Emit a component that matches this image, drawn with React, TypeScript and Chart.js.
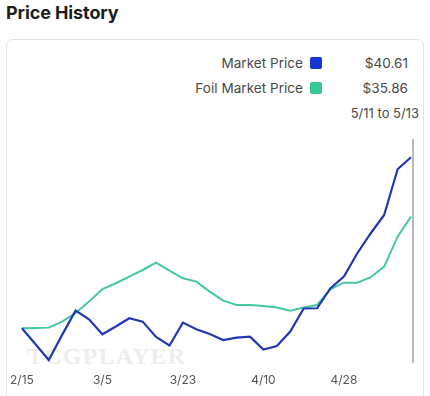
import React, { useEffect, useRef } from "react";
import { Chart, registerables } from "chart.js";

Chart.register(...registerables);

const dates = [
  "2/15", "2/18", "2/21", "2/24", "2/27", "3/2", "3/5", "3/8", "3/11", "3/14",
  "3/17", "3/20", "3/23", "3/26", "3/29", "4/1", "4/4", "4/7", "4/10", "4/13",
  "4/16", "4/19", "4/22", "4/25", "4/28", "5/1", "5/4", "5/7", "5/10", "5/13",
];
const tickEvery = 6;

const marketPrice = [
  26.93, 25.67, 24.39, 26.4, 28.34, 27.65, 26.45, 27.07, 27.73, 27.46,
  26.23, 25.55, 27.38, 26.85, 26.47, 25.99, 26.18, 26.26, 25.23, 25.51,
  26.66, 28.51, 28.53, 30.13, 31.07, 32.93, 34.53, 35.99, 39.65, 40.61,
];
const foilMarketPrice = [
  26.93, 26.95, 26.98, 27.46, 28.15, 29.06, 30.07, 30.53, 31.06, 31.59,
  32.18, 31.54, 30.93, 30.66, 29.86, 29.14, 28.79, 28.79, 28.71, 28.59,
  28.34, 28.59, 28.79, 30.07, 30.58, 30.58, 31.01, 31.86, 34.26, 35.86,
];
const yMin = 24.15;
const yMax = 42.07;

const legendItems = [
  { label: "Market Price", color: "#1536d2", value: "$40.61" },
  { label: "Foil Market Price", color: "#34c990", value: "$35.86" },
];
const rangeLabel = "5/11 to 5/13";

const hoverLine = {
  id: "hoverLine",
  beforeDatasetsDraw(chart: any) {
    const { ctx, chartArea } = chart;
    const meta = chart.getDatasetMeta(0);
    const last = meta.data[meta.data.length - 1];
    if (!last) return;
    ctx.save();
    ctx.strokeStyle = "#b9b9b9";
    ctx.lineWidth = 2;
    ctx.beginPath();
    ctx.moveTo(last.x + 2, chartArea.top);
    ctx.lineTo(last.x + 2, chartArea.bottom);
    ctx.stroke();
    ctx.restore();
  },
};

export default function App() {
  const ref = useRef<HTMLCanvasElement>(null);

  useEffect(() => {
    document.body.style.margin = "0";
    if (!ref.current) return;
    const chart = new Chart(ref.current, {
      type: "line",
      data: {
        labels: dates,
        datasets: [
          {
            label: "Foil Market Price",
            data: foilMarketPrice,
            borderColor: "#45c89b",
            borderWidth: 2,
            pointRadius: 0,
            tension: 0,
            order: 2,
          },
          {
            label: "Market Price",
            data: marketPrice,
            borderColor: "#2238b0",
            borderWidth: 2.2,
            pointRadius: 0,
            tension: 0,
            order: 1,
          },
        ],
      },
      options: {
        animation: false,
        responsive: false,
        maintainAspectRatio: false,
        layout: { padding: { left: 21, right: 19, top: 9, bottom: 0 } },
        plugins: { legend: { display: false }, tooltip: { enabled: false } },
        scales: {
          x: {
            offset: false,
            grid: { display: false, drawTicks: false },
            border: { display: false },
            ticks: {
              autoSkip: false,
              maxRotation: 0,
              padding: 10,
              color: "#555555",
              font: { family: "Inter", size: 12 },
              callback: (_v: any, i: number) => (i % tickEvery === 0 ? dates[i] : ""),
            },
            afterFit: (s: any) => {
              s.height = 33;
            },
          },
          y: { display: false, min: yMin, max: yMax },
        },
      },
      plugins: [hoverLine],
    });
    return () => chart.destroy();
  }, []);

  const font = "Inter, 'Noto Sans', sans-serif";

  return (
    <div style={{ position: "absolute", left: 0, top: 0, width: 430, height: 396, overflow: "hidden", background: "#fff", fontFamily: font }}>
      <div style={{ position: "absolute", left: 6, top: 2, fontSize: 18, fontWeight: 700, color: "#1e1e1e", letterSpacing: -0.1 }}>
        Price History
      </div>
      <div style={{ position: "absolute", left: 6, top: 39, width: 418, height: 400, border: "1px solid #e2e2e2", borderRadius: 7, boxSizing: "border-box" }} />
      {legendItems.map((it, i) => (
        <div key={it.label} style={{ position: "absolute", top: 54 + i * 25, left: 0, width: 430, height: 18 }}>
          <div style={{ position: "absolute", right: 127, top: 0, fontSize: 13.6, lineHeight: "18px", color: "#4a4a4a", whiteSpace: "nowrap" }}>
            {it.label}
          </div>
          <div style={{ position: "absolute", left: 310, top: 3, width: 12, height: 12, borderRadius: 2, background: it.color }} />
          <div style={{ position: "absolute", right: 22, top: 0, fontSize: 13.6, lineHeight: "18px", color: "#4a4a4a" }}>{it.value}</div>
        </div>
      ))}
      <div style={{ position: "absolute", right: 11, top: 104, fontSize: 13, lineHeight: "18px", color: "#4a4a4a", whiteSpace: "nowrap" }}>{rangeLabel}</div>
      <div style={{ position: "absolute", left: 27, top: 344, fontFamily: "'Liberation Serif', 'DejaVu Serif', serif", fontWeight: 700, fontSize: 24, letterSpacing: 1.2, color: "#ededed", lineHeight: "24px" }}>
        TCGPLAYER
      </div>
      <canvas ref={ref} width={430} height={266} style={{ position: "absolute", left: 0, top: 130, width: 430, height: 266 }} />
    </div>
  );
}
